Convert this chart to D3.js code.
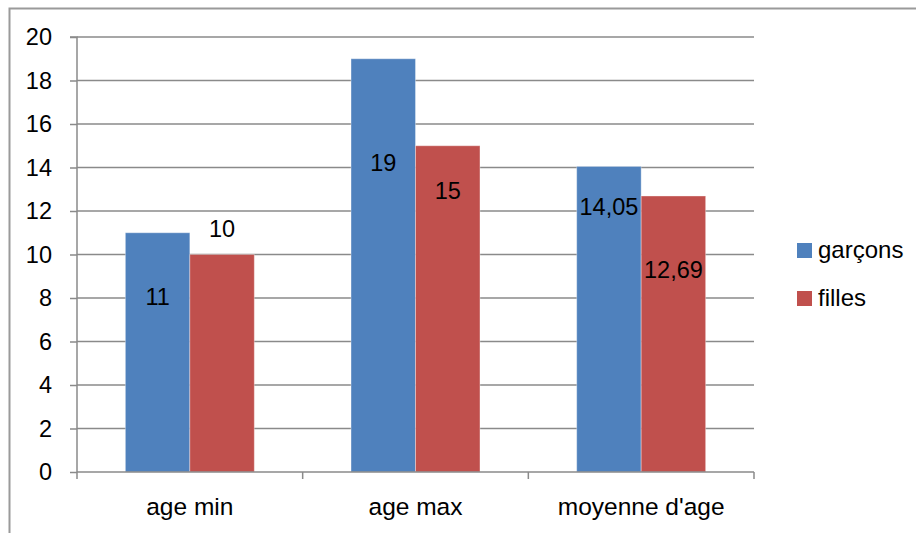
<!DOCTYPE html>
<html>
<head>
<meta charset="utf-8">
<script src="https://cdn.jsdelivr.net/npm/d3@7"></script>
<style>
  html, body { margin: 0; padding: 0; background: #fff; }
  svg { display: block; }
  text { font-family: "Liberation Sans", Arial, sans-serif; fill: #000; }
</style>
</head>
<body>
<svg id="chart" width="916" height="533"></svg>
<script>
const categories = ["age min", "age max", "moyenne d'age"];
const seriesNames = ["garçons", "filles"];
const garcons = [11, 19, 14.05];
const filles = [10, 15, 12.69];
const yTicks = [0, 2, 4, 6, 8, 10, 12, 14, 16, 18, 20];
// label anchor heights (in value units) as placed in the original
const labelAnchorGarcons = [7.68, 13.84, 11.82];
const labelAnchorFilles = [10.8, 12.55, 8.92];

const colors = ["#4F81BD", "#C0504D"];
const svg = d3.select("#chart");

const plot = { left: 77, right: 754, top: 37, bottom: 472 };

const x0 = d3.scaleBand().domain(categories).range([plot.left, plot.right]).padding(0);
const bw = x0.bandwidth();
const x1 = d3.scaleBand().domain(seriesNames).range([bw * 0.2143, bw * (1 - 0.2143)]).padding(0);
const y = d3.scaleLinear().domain([0, 20]).range([plot.bottom, plot.top]);

// outer border (right/bottom cropped in original)
svg.append("rect").attr("x", 9.5).attr("y", 8.5).attr("width", 1000).attr("height", 1000)
  .attr("fill", "none").attr("stroke", "#9a9a9a").attr("stroke-width", 2);

// gridlines
svg.append("g").selectAll("line").data(yTicks.filter(d => d > 0)).join("line")
  .attr("x1", plot.left).attr("x2", plot.right)
  .attr("y1", d => y(d)).attr("y2", d => y(d))
  .attr("stroke", "#8a8a8a").attr("stroke-width", 1.5);

// y axis
const yAxis = d3.axisLeft(y).tickValues(yTicks).tickSize(7).tickPadding(18);
const gy = svg.append("g").attr("transform", `translate(${plot.left},0)`).call(yAxis);
gy.select(".domain").attr("stroke", "#8a8a8a").attr("stroke-width", 1.5)
  .attr("d", `M-7,${y(20)}H0V${y(0)}`);
gy.selectAll(".tick line").attr("stroke", "#8a8a8a").attr("stroke-width", 1.5);
gy.selectAll(".tick text").attr("font-size", 23.5).attr("font-family", "Liberation Sans, Arial, sans-serif").attr("fill", "#000");

// bars
const data = categories.map((c, i) => ({ cat: c, vals: [
  { s: seriesNames[0], v: garcons[i], a: labelAnchorGarcons[i], c: colors[0] },
  { s: seriesNames[1], v: filles[i], a: labelAnchorFilles[i], c: colors[1] }
]}));

const groups = svg.append("g").selectAll("g").data(data).join("g")
  .attr("transform", d => `translate(${x0(d.cat)},0)`);

groups.selectAll("rect").data(d => d.vals).join("rect")
  .attr("x", d => x1(d.s)).attr("width", x1.bandwidth())
  .attr("y", d => y(d.v)).attr("height", d => y(0) - y(d.v))
  .attr("fill", d => d.c)
  .attr("stroke", "rgba(255,255,255,0.35)").attr("stroke-width", 1);

// x axis
svg.append("line").attr("x1", plot.left).attr("x2", plot.right)
  .attr("y1", y(0)).attr("y2", y(0)).attr("stroke", "#8a8a8a").attr("stroke-width", 1.5);
const xt = categories.map(c => x0(c)).concat([plot.right]);
svg.append("g").selectAll("line").data(xt).join("line")
  .attr("x1", d => d).attr("x2", d => d).attr("y1", y(0)).attr("y2", y(0) + 7)
  .attr("stroke", "#8a8a8a").attr("stroke-width", 1.5);
svg.append("g").selectAll("text").data(categories).join("text")
  .attr("x", d => x0(d) + bw / 2).attr("y", 515)
  .attr("text-anchor", "middle").attr("font-size", 24.5).text(d => d);

// data labels
groups.selectAll("text.lbl").data(d => d.vals).join("text").attr("class", "lbl")
  .attr("x", d => x1(d.s) + x1.bandwidth() / 2)
  .attr("y", d => y(d.a))
  .attr("text-anchor", "middle").attr("font-size", 23.5)
  .text(d => String(d.v).replace(".", ","));

// legend
const leg = svg.append("g").selectAll("g").data(seriesNames).join("g")
  .attr("transform", (d, i) => `translate(797,${243 + i * 48})`);
leg.append("rect").attr("width", 15).attr("height", 15).attr("fill", (d, i) => colors[i]);
leg.append("text").attr("x", 21).attr("y", 15).attr("font-size", 24).text(d => d);
</script>
</body>
</html>
